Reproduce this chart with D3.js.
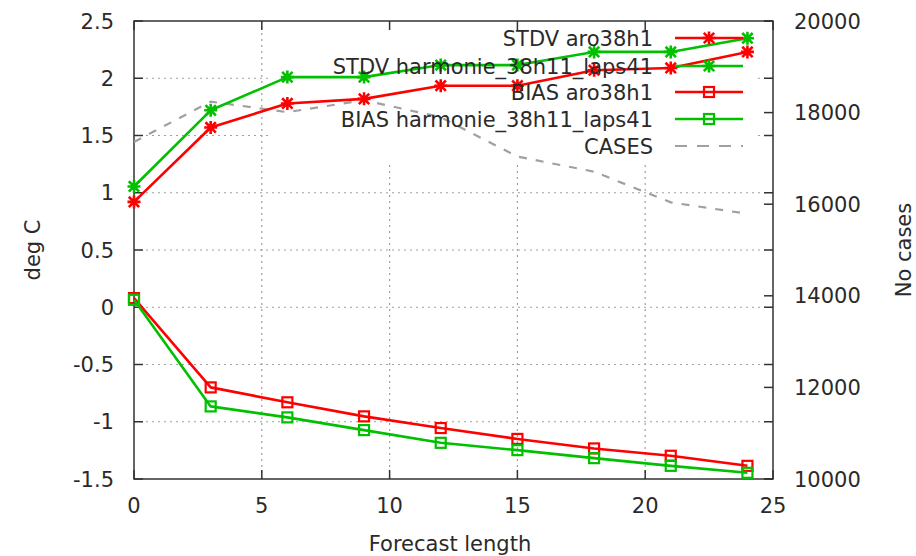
<!DOCTYPE html>
<html><head><meta charset="utf-8">
<script src="https://cdn.jsdelivr.net/npm/d3@7"></script>
<style>
html,body{margin:0;padding:0;background:#fff;}
svg text{font-family:"DejaVu Sans",sans-serif;fill:#2a2a2a;}
</style></head>
<body><svg id="c" width="916" height="556"></svg>
<script>
const forecastLength = [0,3,6,9,12,15,18,21,24];
const stdvAro = [0.92,1.57,1.78,1.82,1.935,1.935,2.07,2.09,2.23];
const stdvHarm = [1.055,1.72,2.01,2.01,2.115,2.115,2.23,2.23,2.35];
const biasAro = [0.08,-0.70,-0.83,-0.953,-1.055,-1.15,-1.233,-1.297,-1.385];
const biasHarm = [0.065,-0.866,-0.962,-1.073,-1.184,-1.248,-1.318,-1.385,-1.446];
const cases = [17360,18240,18010,18270,17900,17040,16710,16040,15790];
const xTicks = [0,5,10,15,20,25];
const yTicks = [-1.5,-1,-0.5,0,0.5,1,1.5,2,2.5];
const y2Ticks = [10000,12000,14000,16000,18000,20000];
const legendLabels = ["STDV aro38h1","STDV harmonie_38h11_laps41","BIAS aro38h1","BIAS harmonie_38h11_laps41","CASES"];

const L=134, R=773, T=21, B=479;
const svg = d3.select("#c");
const x = d3.scaleLinear().domain([0,25]).range([L,R]);
const y = d3.scaleLinear().domain([-1.5,2.5]).range([B,T]);
const y2 = d3.scaleLinear().domain([10000,20000]).range([B,T]);

const RED="#ff0000", GREEN="#00c000", GRAY="#a0a0a0";
const key = {x0:270, x1:756, y0:T, y1:160};

// grid
const grid = svg.append("g").attr("stroke",GRAY).attr("stroke-width",1.2).attr("stroke-dasharray","2,4");
xTicks.filter(t=>t>0&&t<25).forEach(t=>grid.append("line").attr("x1",x(t)).attr("x2",x(t)).attr("y1",B).attr("y2",T));
yTicks.filter(t=>t>-1.5&&t<2.5).forEach(t=>grid.append("line").attr("x1",L).attr("x2",R).attr("y1",y(t)).attr("y2",y(t)));
// key area hides grid
svg.append("rect").attr("x",key.x0).attr("y",key.y0+1).attr("width",key.x1-key.x0).attr("height",key.y1-key.y0).attr("fill","#fff");

// axes & ticks
const ax = svg.append("g").attr("stroke","#333").attr("stroke-width",1.5);
ax.append("rect").attr("x",L).attr("y",T).attr("width",R-L).attr("height",B-T).attr("fill","none");
const tl=9;
xTicks.forEach(t=>{
  ax.append("line").attr("x1",x(t)).attr("x2",x(t)).attr("y1",B).attr("y2",B-tl);
  ax.append("line").attr("x1",x(t)).attr("x2",x(t)).attr("y1",T).attr("y2",T+tl);
});
yTicks.forEach(t=>{
  ax.append("line").attr("x1",L).attr("x2",L+tl).attr("y1",y(t)).attr("y2",y(t));
  ax.append("line").attr("x1",R).attr("x2",R-tl).attr("y1",y(t)).attr("y2",y(t));
});
y2Ticks.forEach(t=>{
  ax.append("line").attr("x1",R).attr("x2",R-tl).attr("y1",y2(t)).attr("y2",y2(t));
});

const fs=21;
const tg = svg.append("g").style("font-size",fs+"px");
xTicks.forEach(t=>tg.append("text").attr("x",x(t)).attr("y",513).attr("text-anchor","middle").text(t));
yTicks.forEach(t=>tg.append("text").attr("x",114).attr("y",y(t)).attr("dy","0.36em").attr("text-anchor","end").text(t));
y2Ticks.forEach(t=>tg.append("text").attr("x",794).attr("y",y2(t)).attr("dy","0.36em").attr("text-anchor","start").text(t));
tg.append("text").attr("x",450).attr("y",551).attr("text-anchor","middle").text("Forecast length");
tg.append("text").attr("transform","translate(40,250) rotate(-90)").attr("text-anchor","middle").text("deg C");
tg.append("text").attr("transform","translate(911,250) rotate(-90)").attr("text-anchor","middle").text("No cases");

// data
const line = d3.line().x((d,i)=>x(forecastLength[i])).y(d=>y(d));
const line2 = d3.line().x((d,i)=>x(forecastLength[i])).y(d=>y2(d));

svg.append("path").attr("d",line2(cases)).attr("fill","none").attr("stroke",GRAY).attr("stroke-width",2.2).attr("stroke-dasharray","8,9");

function star(g,cx,cy,color){
  const s=6.5;
  g.append("path").attr("d",`M${cx-s},${cy}H${cx+s}M${cx},${cy-s}V${cy+s}M${cx-s*0.8},${cy-s*0.8}L${cx+s*0.8},${cy+s*0.8}M${cx-s*0.8},${cy+s*0.8}L${cx+s*0.8},${cy-s*0.8}`)
   .attr("stroke",color).attr("stroke-width",2.6).attr("fill","none");
}
function square(g,cx,cy,color){
  const s=5;
  g.append("rect").attr("x",cx-s).attr("y",cy-s).attr("width",2*s).attr("height",2*s)
   .attr("stroke",color).attr("stroke-width",2.2).attr("fill","none");
}
const series = [
  {vals:stdvAro,color:RED,mk:star},
  {vals:stdvHarm,color:GREEN,mk:star},
  {vals:biasAro,color:RED,mk:square},
  {vals:biasHarm,color:GREEN,mk:square}
];
series.forEach(s=>{
  const g=svg.append("g");
  g.append("path").attr("d",line(s.vals)).attr("fill","none").attr("stroke",s.color).attr("stroke-width",2.6).attr("stroke-linejoin","round");
  s.vals.forEach((v,i)=>s.mk(g,x(forecastLength[i]),y(v),s.color));
});

// legend
const rows=[38,66,92,119,146];
const lg=svg.append("g").style("font-size",fs+"px");
legendLabels.forEach((lab,i)=>{
  lg.append("text").attr("x",653).attr("y",rows[i]).attr("dy","0.36em").attr("text-anchor","end").text(lab);
  if(i<4){
    const s=series[i];
    lg.append("line").attr("x1",675).attr("x2",743).attr("y1",rows[i]).attr("y2",rows[i]).attr("stroke",s.color).attr("stroke-width",2.6);
    s.mk(lg,709,rows[i],s.color);
  } else {
    lg.append("line").attr("x1",675).attr("x2",743).attr("y1",rows[i]).attr("y2",rows[i]).attr("stroke",GRAY).attr("stroke-width",2.2).attr("stroke-dasharray","12,10");
  }
});
</script></body></html>
